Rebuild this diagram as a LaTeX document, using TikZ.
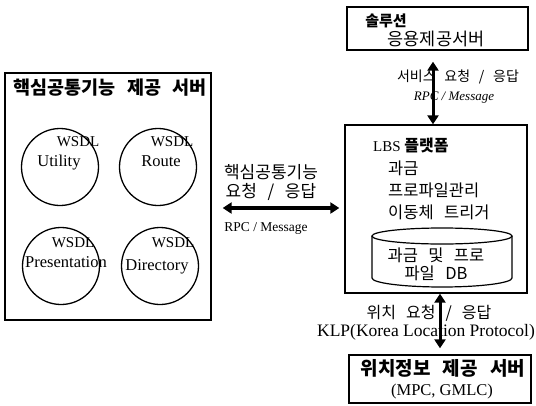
\documentclass[tikz,border=0pt]{standalone}
\usepackage{fontspec}
\setmainfont{Liberation Serif}
\newfontfamily\kr[WordSpace=2.8]{Noto Sans CJK KR}
\usetikzlibrary{arrows.meta}
\tikzset{
  box/.style={draw,line width=1.3pt,inner sep=0pt},
  circ/.style={draw,circle,line width=1.3pt,minimum size=77pt,inner sep=0pt},
  en/.style={inner sep=0pt,font=\fontsize{#1}{#1}\selectfont},
  ko/.style={inner sep=0pt,font=\kr\fontsize{#1}{#1}\selectfont},
  kob/.style={inner sep=0pt,font=\kr\bfseries\fontsize{#1}{#1}\selectfont},
  biarrow/.style={line width=3pt,{Triangle[width=11pt,length=9pt]}-{Triangle[width=11pt,length=9pt]}}
}
\begin{document}
\begin{tikzpicture}[x=1pt,y=-1pt]
\fill[white] (0,0) rectangle (536,405);
\useasboundingbox (0,0) rectangle (536,405);

% left box
\node[box,minimum width=206pt,minimum height=247pt] (core) at (108,196.5) {};
\node[kob=18.5] (coret) at (110,88) {핵심공통기능 제공 서버};
\node[circ] (cu) at (60,167) {};
\node[circ] (cr) at (158,167) {};
\node[circ] (cp) at (61,266) {};
\node[circ] (cd) at (160,266) {};
\node[en=15] (wu) at (78,142) {WSDL};
\node[en=15] (wr) at (172,142) {WSDL};
\node[en=15] (wp) at (73,243) {WSDL};
\node[en=15] (wd) at (173,243) {WSDL};
\node[en=16.5] (tu) at (59,163) {Utility};
\node[en=16.5] (tr) at (161,161) {Route};
\node[en=16.5] (tp) at (66,262) {Presentation};
\node[en=16.5] (td) at (157,267) {Directory};

% middle labels
\node[ko=17] (ml1) at (271,172) {핵심공통기능};
\node[ko=17] (ml2) at (271,192) {요청 / 응답};
\node[en=13.5] (ml3) at (266,228) {RPC / Message};

% solution box
\node[box,minimum width=181pt,minimum height=43pt] (sol) at (437.5,28.5) {};
\node[kob=15] (solt) at (386,21) {솔루션};
\node[ko=17.5] (sols) at (436,39) {응용제공서버};
\node[ko=14] (al1) at (458,77) {서비스 요청 / 응답};
\node[inner sep=0pt,font=\itshape\fontsize{13}{13}\selectfont] (al2) at (454,98) {RPC / Message};

% LBS box
\node[box,minimum width=182pt,minimum height=168pt] (lbs) at (436,209) {};
\node[inner sep=0pt,anchor=west,font=\fontsize{15}{15}\selectfont] (lbst) at (373,145) {LBS {\kr\bfseries\fontsize{16}{16}\selectfont 플랫폼}};
\node[ko=16.5,anchor=west] (i1) at (388,168) {과금};
\node[ko=16.5,anchor=west] (i2) at (388,190) {프로파일관리};
\node[ko=16.5,anchor=west] (i3) at (388,212) {이동체 트리거};
\draw[line width=1.2pt] (442,236) ellipse [x radius=70pt,y radius=8pt];
\draw[line width=1.2pt] (372,236) -- (372,278) arc[start angle=180,end angle=360,x radius=70pt,y radius=9pt] -- (512,236);
\node[ko=16.5] (db1) at (436,255) {과금 및 프로};
\node[ko=16.5] (db2) at (436,273) {파일 DB};

% bottom
\node[ko=16] (bl1) at (429,313) {위치 요청 / 응답};
\node[en=17.5] (bl2) at (426,332) {KLP(Korea Location Protocol)};
\node[box,minimum width=182pt,minimum height=48pt] (pos) at (440,379) {};
\node[kob=19] (post) at (443,368) {위치정보 제공 서버};
\node[en=16.5] (pos2) at (442,392) {(MPC, GMLC)};

% connectors
\coordinate (mid) at (280,208);
\coordinate (ax1) at (433,0);
\coordinate (ax2) at (440,0);
\draw[biarrow,line width=3.5pt,shorten <=11pt,shorten >=5pt] (core.east |- mid) -- (lbs.west |- mid);
\draw[biarrow,shorten <=11pt] (sol.south -| ax1) -- (lbs.north -| ax1);
\draw[biarrow,shorten >=6pt] (lbs.south -| ax2) -- (pos.north -| ax2);
\end{tikzpicture}
\end{document}
